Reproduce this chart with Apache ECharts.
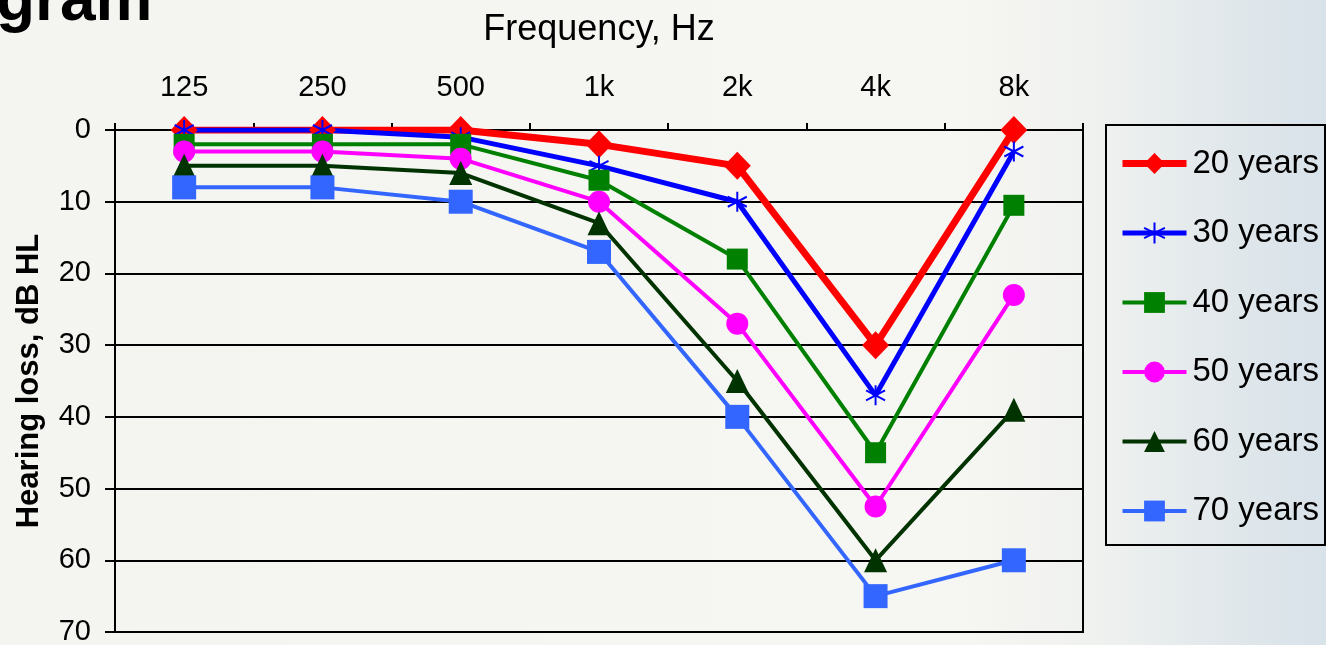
<!DOCTYPE html>
<html>
<head>
<meta charset="utf-8">
<script src="https://cdn.jsdelivr.net/npm/echarts@6/dist/echarts.min.js"></script>
<style>
  html, body { margin: 0; padding: 0; width: 1326px; height: 645px; overflow: hidden;
    background: linear-gradient(to right, #f4f4f0 0%, #f6f6f2 72%, #f0f2ef 82%, #e3e9ec 91%, #d8e2e9 100%); }
  #chart { width: 1326px; height: 645px; }
</style>
</head>
<body>
<div id="chart"></div>
<script>
// Audiogram: average hearing threshold by age group
const frequencies = ['125', '250', '500', '1k', '2k', '4k', '8k'];
const ageGroups = ['20 years', '30 years', '40 years', '50 years', '60 years', '70 years'];
const loss20 = [0, 0, 0, 2, 5, 30, 0];
const loss30 = [0, 0, 1, 5, 10, 37, 3];
const loss40 = [2, 2, 2, 7, 18, 45, 10.5];
const loss50 = [3, 3, 4, 10, 27, 52.5, 23];
const loss60 = [5, 5, 6, 13, 35, 60, 39];
const loss70 = [8, 8, 10, 17, 40, 65, 60];
const lossMin = 0, lossMax = 70, lossStep = 10;

const FONT = "'Liberation Sans', Arial, sans-serif";
const ASTERISK = 'path://M10 0 L10 20 M1.34 5 L18.66 15 M1.34 15 L18.66 5';

const seriesData = [loss20, loss30, loss40, loss50, loss60, loss70];
const looks = [
  { color: '#ff0000', width: 7, symbol: 'diamond', size: [27, 28] },
  { color: '#0000ff', width: 5, symbol: ASTERISK, size: [19, 20], stroke: 2 },
  { color: '#008000', width: 4, symbol: 'rect', size: 21 },
  { color: '#ff00ff', width: 4, symbol: 'circle', size: 22 },
  { color: '#003300', width: 4, symbol: 'triangle', size: [23, 24] },
  { color: '#3366ff', width: 4, symbol: 'rect', size: 24 }
];

const series = ageGroups.map((name, i) => {
  const lk = looks[i];
  return {
    name: name,
    type: 'line',
    data: seriesData[i],
    symbol: lk.symbol,
    symbolSize: lk.size,
    showAllSymbol: true,
    lineStyle: { color: lk.color, width: lk.width },
    itemStyle: lk.stroke
      ? { color: lk.color, borderColor: lk.color, borderWidth: lk.stroke }
      : { color: lk.color, borderWidth: 0 },
    emphasis: { disabled: true },
    animation: false
  };
});

const legendItems = ageGroups.map((name, i) => ({
  name: name,
  lineStyle: { color: looks[i].color, width: looks[i].width }
}));

const chart = echarts.init(document.getElementById('chart'), null, { renderer: 'canvas' });
chart.setOption({
  backgroundColor: 'transparent',
  animation: false,
  textStyle: { fontFamily: FONT },
  grid: { left: 115, right: 243, top: 130, bottom: 13, show: true,
          outerBoundsMode: 'none', containLabel: false,
          borderColor: '#000', borderWidth: 2, backgroundColor: 'transparent' },
  xAxis: {
    type: 'category',
    position: 'top',
    data: frequencies,
    boundaryGap: true,
    axisLine: { show: true, lineStyle: { color: '#000', width: 2 } },
    axisTick: { show: true, inside: false, length: 7, lineStyle: { color: '#000', width: 2 } },
    axisLabel: { color: '#000', fontSize: 29, fontFamily: FONT, margin: 28 },
    splitLine: { show: false }
  },
  yAxis: {
    type: 'value',
    inverse: true,
    min: lossMin,
    max: lossMax,
    interval: lossStep,
    name: 'Hearing loss, dB HL',
    nameLocation: 'middle',
    nameGap: 70,
    nameTextStyle: { color: '#000', fontSize: 31, fontWeight: 'bold', fontFamily: FONT },
    axisLine: { show: true, lineStyle: { color: '#000', width: 2 } },
    axisTick: { show: true, inside: false, length: 10, lineStyle: { color: '#000', width: 2 } },
    axisLabel: { color: '#000', fontSize: 29, fontFamily: FONT, margin: 24 },
    splitLine: { show: true, lineStyle: { color: '#000', width: 2 } }
  },
  legend: {
    data: legendItems,
    orient: 'vertical',
    left: 1119,
    top: 147,
    padding: 0,
    itemWidth: 64,
    itemHeight: 26,
    itemGap: 36.5,
    textStyle: { color: '#000', fontSize: 33, fontFamily: FONT, padding: [0, 0, 0, 1] },
    selectedMode: false
  },
  graphic: [
    { type: 'text', left: -4, top: -30, silent: true,
      style: { text: 'gram', fill: '#000', font: 'bold 64px ' + FONT } },
    { type: 'text', x: 599, y: 30, silent: true,
      style: { text: 'Frequency, Hz', fill: '#000', font: '36px ' + FONT,
               align: 'center', verticalAlign: 'middle' } },
    { type: 'rect', shape: { x: 1106, y: 125, width: 219, height: 420 }, silent: true,
      style: { fill: 'none', stroke: '#000', lineWidth: 2 } }
  ],
  series: series
});
</script>
</body>
</html>
